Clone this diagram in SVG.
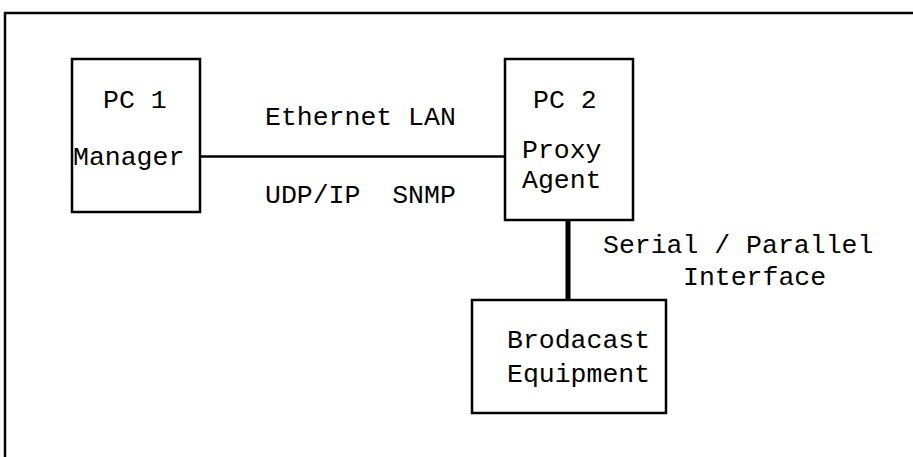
<svg xmlns="http://www.w3.org/2000/svg" width="913" height="457" viewBox="0 0 913 457">
<style>
.box{fill:none;stroke:#000;stroke-width:2.5}
.t{font-family:"Liberation Mono","Courier New",monospace;font-size:26.5px;fill:#000}
</style>
<rect width="913" height="457" fill="#fff"/>
<g id="frame">
<path d="M5,457 V13 H913" fill="none" stroke="#000" stroke-width="2.5"/>
</g>
<g id="connectors">
<line x1="200" y1="156.5" x2="505" y2="156.5" stroke="#000" stroke-width="2.5"/>
<line x1="568" y1="220" x2="568" y2="300" stroke="#000" stroke-width="5"/>
</g>
<g id="pc1">
<rect class="box" x="72" y="59" width="128" height="153"/>
<text class="t" x="103" y="108">PC 1</text>
<text class="t" x="73" y="165">Manager</text>
</g>
<g id="pc2">
<rect class="box" x="505" y="59" width="128" height="161"/>
<text class="t" x="533" y="108">PC 2</text>
<text class="t" x="522" y="158">Proxy</text>
<text class="t" x="522" y="188">Agent</text>
</g>
<g id="equipment">
<rect class="box" x="472" y="300" width="194" height="113"/>
<text class="t" x="507" y="348">Brodacast</text>
<text class="t" x="507" y="382">Equipment</text>
</g>
<g id="labels">
<text class="t" x="265" y="125">Ethernet LAN</text>
<text class="t" x="265" y="203" xml:space="preserve">UDP/IP  SNMP</text>
<text class="t" x="603" y="253">Serial / Parallel</text>
<text class="t" x="683" y="285">Interface</text>
</g>
</svg>
